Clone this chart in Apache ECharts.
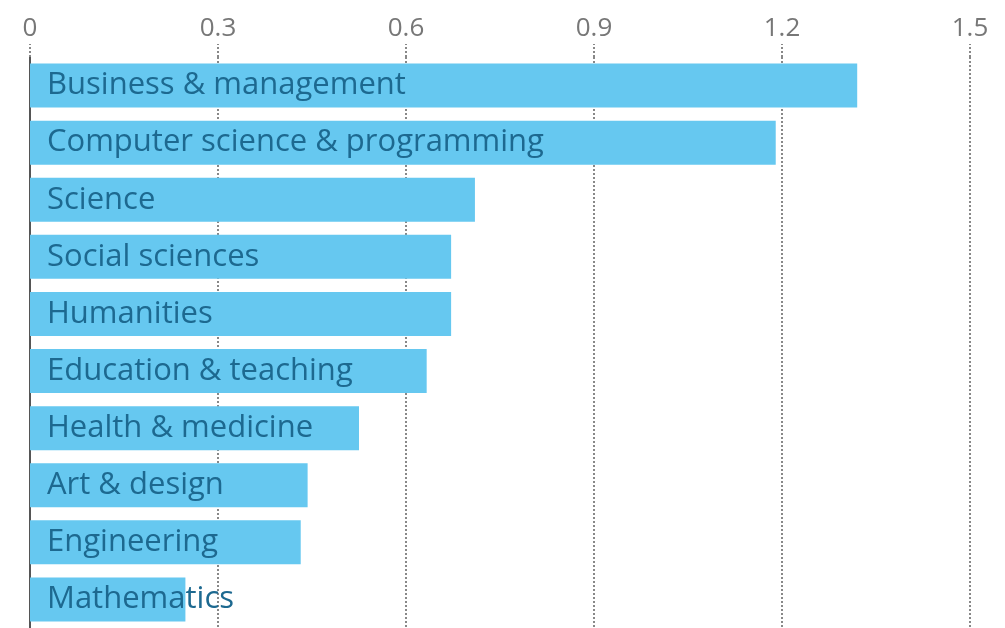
<!DOCTYPE html>
<html>
<head>
<meta charset="utf-8">
<script src="https://cdn.jsdelivr.net/npm/echarts@6/dist/echarts.min.js"></script>
<style>
  html, body { margin: 0; padding: 0; background: #fff; }
  #chart { width: 1005px; height: 628px; }
</style>
</head>
<body>
<div id="chart"></div>
<script>
const subjects = [
  'Business & management',
  'Computer science & programming',
  'Science',
  'Social sciences',
  'Humanities',
  'Education & teaching',
  'Health & medicine',
  'Art & design',
  'Engineering',
  'Mathematics'
];
const values = [1.32, 1.19, 0.71, 0.672, 0.672, 0.633, 0.525, 0.443, 0.432, 0.248];
const ticks = [0, 0.3, 0.6, 0.9, 1.2, 1.5];

const chart = echarts.init(document.getElementById('chart'));
chart.setOption({
  animation: false,
  grid: { left: 30, right: 35, top: 57, bottom: -5 },
  xAxis: {
    type: 'value',
    position: 'top',
    min: ticks[0],
    max: ticks[ticks.length - 1],
    interval: 0.3,
    axisLine: { show: false },
    axisTick: {
      show: true,
      length: 13,
      lineStyle: { color: '#888', type: 'dotted', width: 2 }
    },
    axisLabel: {
      margin: 15,
      color: '#777',
      fontSize: 26,
      fontFamily: 'Open Sans',
      formatter: v => String(Math.round(v * 10) / 10)
    },
    splitLine: {
      show: true,
      lineStyle: { color: '#888', type: 'dotted', width: 2 }
    }
  },
  yAxis: {
    type: 'category',
    data: subjects,
    inverse: true,
    axisLine: { show: true, lineStyle: { color: '#555', width: 2 } },
    axisTick: { show: false },
    axisLabel: { show: false }
  },
  series: [{
    type: 'bar',
    data: values,
    barCategoryGap: '23%',
    itemStyle: { color: '#66c8f0' },
    label: {
      show: true,
      position: 'insideLeft',
      offset: [12, 0],
      formatter: p => p.name,
      color: '#1d6990',
      fontSize: 31,
      fontFamily: 'Open Sans'
    }
  }]
});
</script>
</body>
</html>
